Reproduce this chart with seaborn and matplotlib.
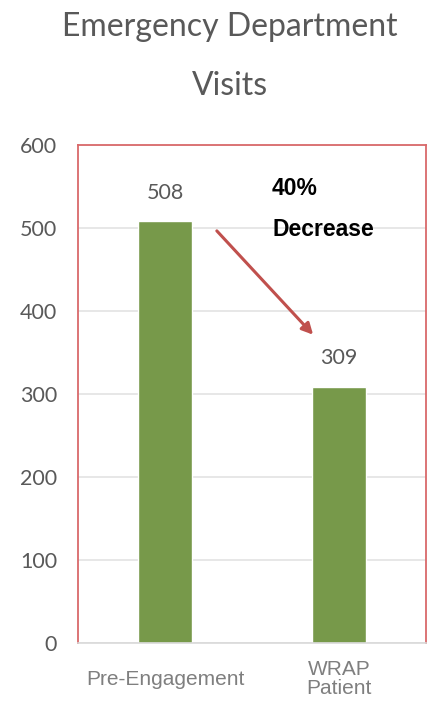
import matplotlib
matplotlib.use("Agg")
import matplotlib.pyplot as plt
import seaborn as sns
import pandas as pd

categories = ["Pre-Engagement", "WRAP\nPatient"]
visits = [508, 309]
yticks = [0, 100, 200, 300, 400, 500, 600]
title = "Emergency Department\nVisits"
note = "40%\nDecrease"

sns.set_theme(style="white")
narrow = ["Lato", "DejaVu Sans"]
arial = ["Liberation Sans", "DejaVu Sans"]
plt.rcParams['font.family'] = narrow

df = pd.DataFrame({"cat": categories, "val": visits})

fig = plt.figure(figsize=(4.33, 7.02), dpi=100)
ax = fig.add_axes([78/433, 1-643/702, 348/433, 498/702])
sns.barplot(data=df, x="cat", y="val", color="#77994A", saturation=1,
            width=0.316, ax=ax)
ax.set_xlim(-0.5, 1.5)
ax.set_ylim(0, 600)
ax.set_yticks(yticks)
ax.set_yticklabels([str(t) for t in yticks], fontsize=15.5, color="#595959",
                   family=narrow)
ax.set_xticks(range(len(categories)))
ax.set_xticklabels(categories, fontsize=15, color="#7F7F7F",
                   family=arial, linespacing=1.02, va="center")
ax.tick_params(axis='x', pad=26, length=0)
ax.tick_params(axis='y', pad=15, length=0)
ax.set_xlabel("")
ax.set_ylabel("")
ax.grid(axis='y', color="#E3E3E3", linewidth=1.2)
ax.set_axisbelow(True)
for s in ["left", "right", "top"]:
    ax.spines[s].set_color("#D9696A")
    ax.spines[s].set_linewidth(1.3)
ax.spines["bottom"].set_color("#D9D9D9")
ax.spines["bottom"].set_linewidth(1.2)

for i, v in enumerate(visits):
    ax.text(i, v + 34, str(v), ha="center", va="center", fontsize=15.5,
            color="#595959", family=narrow)

ax.annotate("", xy=(0.862, 369), xytext=(0.287, 499),
            arrowprops=dict(arrowstyle="-|>,head_length=0.55,head_width=0.28",
                            color="#C0504D", lw=2.2))
ax.text(0.615, 562, note, ha="left", va="top", fontsize=16.5, fontweight="bold",
        color="black", family=arial, linespacing=2.0)

fig.text(0.53, 0.983, title, ha="center", va="top", fontsize=23,
         color="#595959", family=narrow, linespacing=2.2)

fig.savefig("out.png", dpi=100)
